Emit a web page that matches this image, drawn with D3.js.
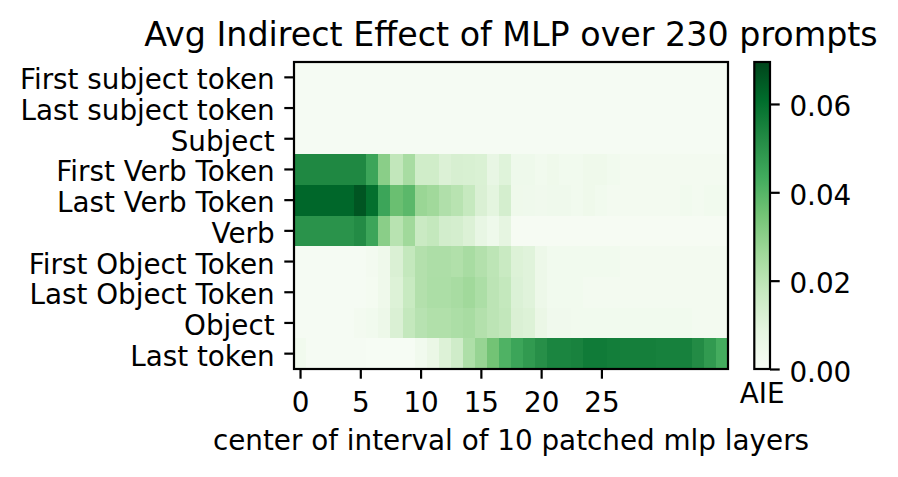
<!DOCTYPE html>
<html>
<head>
<meta charset="utf-8">
<script src="https://cdn.jsdelivr.net/npm/d3@7"></script>
<style>
body { margin: 0; background: white; }
text { font-family: "DejaVu Sans", sans-serif; fill: black; }
</style>
</head>
<body>
<script>
let width = 898
let height = 477
let plotLeft = 294, plotRight = 728, plotTop = 62, plotBottom = 369
let fontSize = 27.8

let title = 'Avg Indirect Effect of MLP over 230 prompts'
let xLabel = 'center of interval of 10 patched mlp layers'
let cbarLabel = 'AIE'

let rowLabels = ['First subject token', 'Last subject token', 'Subject',
    'First Verb Token', 'Last Verb Token', 'Verb',
    'First Object Token', 'Last Object Token', 'Object', 'Last token']

let xTicks = [0, 5, 10, 15, 20, 25]
let cbarTicks = [0, 0.02, 0.04, 0.06]
let vmax = 0.0695

// matplotlib "Greens"
let greens = ['#f7fcf5', '#e5f5e0', '#c7e9c0', '#a1d99b', '#74c476',
    '#41ab5d', '#238b45', '#006d2c', '#00441b']

// one array per row, 36 patch positions each
let firstSubject = [0.001, 0.001, 0.001, 0.001, 0.001, 0.001, 0.001, 0.001, 0.001, 0.001, 0.001, 0.001,
    0.001, 0.001, 0.001, 0.001, 0.001, 0.001, 0.001, 0.001, 0.001, 0.001, 0.001, 0.001,
    0.001, 0.001, 0.001, 0.001, 0.001, 0.001, 0.001, 0.001, 0.001, 0.001, 0.001, 0.001]
let lastSubject = [0.001, 0.001, 0.001, 0.001, 0.001, 0.001, 0.001, 0.001, 0.001, 0.001, 0.001, 0.001,
    0.001, 0.001, 0.001, 0.001, 0.001, 0.001, 0.001, 0.001, 0.001, 0.001, 0.001, 0.001,
    0.001, 0.001, 0.001, 0.001, 0.001, 0.001, 0.001, 0.001, 0.001, 0.001, 0.001, 0.001]
let subject = [0.001, 0.001, 0.001, 0.001, 0.001, 0.001, 0.001, 0.001, 0.001, 0.001, 0.001, 0.001,
    0.001, 0.001, 0.001, 0.001, 0.001, 0.001, 0.001, 0.001, 0.001, 0.001, 0.001, 0.001,
    0.001, 0.001, 0.001, 0.001, 0.001, 0.001, 0.001, 0.001, 0.001, 0.001, 0.001, 0.001]
let firstVerb = [0.053, 0.053, 0.053, 0.053, 0.053, 0.053, 0.045, 0.0305, 0.0185, 0.0245, 0.0148, 0.0148,
    0.0113, 0.0127, 0.0124, 0.0119, 0.0072, 0.0104, 0.0043, 0.0043, 0.0029, 0.004, 0.003, 0.003,
    0.004, 0.004, 0.003, 0.002, 0.002, 0.002, 0.002, 0.002, 0.002, 0.002, 0.002, 0.002]
let lastVerb = [0.062, 0.062, 0.062, 0.062, 0.062, 0.066, 0.060, 0.045, 0.0365, 0.039, 0.0274, 0.026,
    0.0226, 0.0208, 0.0176, 0.012, 0.009, 0.0136, 0.004, 0.0038, 0.0035, 0.0038, 0.0038, 0.003,
    0.004, 0.003, 0.002, 0.002, 0.002, 0.002, 0.002, 0.002, 0.003, 0.002, 0.003, 0.003]
let verb = [0.050, 0.050, 0.050, 0.050, 0.050, 0.052, 0.045, 0.0305, 0.0208, 0.026, 0.0165, 0.018,
    0.0142, 0.0136, 0.0113, 0.0072, 0.0043, 0.0082, 0.0007, 0.0007, 0.0007, 0.0007, 0.0007, 0.0007,
    0.0007, 0.0007, 0.0007, 0.0007, 0.0007, 0.0007, 0.0007, 0.0007, 0.0007, 0.0007, 0.0007, 0.0007]
let firstObject = [0.001, 0.001, 0.001, 0.001, 0.001, 0.001, 0.002, 0.004, 0.012, 0.018, 0.022, 0.0233,
    0.0233, 0.0225, 0.0245, 0.022, 0.0197, 0.0168, 0.011, 0.010, 0.005, 0.003, 0.003, 0.003,
    0.003, 0.003, 0.003, 0.002, 0.002, 0.002, 0.002, 0.002, 0.002, 0.002, 0.002, 0.002]
let lastObject = [0.001, 0.001, 0.001, 0.001, 0.001, 0.001, 0.0015, 0.004, 0.011, 0.017, 0.022, 0.0235,
    0.0235, 0.0245, 0.026, 0.0235, 0.020, 0.018, 0.0115, 0.010, 0.005, 0.003, 0.003, 0.003,
    0.002, 0.002, 0.002, 0.002, 0.002, 0.002, 0.002, 0.002, 0.002, 0.002, 0.002, 0.002]
let object = [0.001, 0.001, 0.001, 0.001, 0.001, 0.002, 0.003, 0.005, 0.012, 0.018, 0.021, 0.0225,
    0.0225, 0.0235, 0.0245, 0.022, 0.020, 0.0185, 0.012, 0.011, 0.006, 0.0035, 0.0035, 0.003,
    0.003, 0.003, 0.003, 0.003, 0.003, 0.003, 0.003, 0.003, 0.003, 0.002, 0.002, 0.002]
let lastToken = [0.003, 0.001, 0.001, 0.001, 0.001, 0.001, 0.0005, 0.0005, 0.0005, 0.0005, 0.003, 0.006,
    0.011, 0.015, 0.023, 0.028, 0.035, 0.041, 0.045, 0.048, 0.051, 0.054, 0.054, 0.0547,
    0.0568, 0.0568, 0.056, 0.0557, 0.0557, 0.0557, 0.055, 0.055, 0.055, 0.052, 0.048, 0.043]

let rows = [firstSubject, lastSubject, subject, firstVerb, lastVerb, verb,
    firstObject, lastObject, object, lastToken]
let nCols = firstSubject.length

let color = d3.scaleLinear()
    .domain(greens.map((c, i) => vmax * i / (greens.length - 1)))
    .range(greens)
    .clamp(true)

let x = d3.scaleLinear()
    .domain([-0.5, nCols - 0.5])
    .range([plotLeft, plotRight])

let y = d3.scaleBand()
    .domain(rowLabels)
    .range([plotTop, plotBottom])

let svg = d3.select('body')
    .append('svg')
    .attr('width', width)
    .attr('height', height)

svg.append('rect')
    .attr('width', width)
    .attr('height', height)
    .attr('fill', 'white')

// heatmap cells
let cells = []
rows.forEach((r, i) => r.forEach((v, j) => cells.push({row: rowLabels[i], col: j, value: v})))

svg.append('g')
    .selectAll('rect')
    .data(cells)
    .enter()
    .append('rect')
    .attr('x', d => x(d.col - 0.5))
    .attr('y', d => y(d.row))
    .attr('width', x(1) - x(0) + 0.4)
    .attr('height', y.bandwidth() + 0.4)
    .attr('fill', d => color(d.value))
    .attr('shape-rendering', 'crispEdges')

function styleAxis(g) {
    g.select('.domain').remove()
    g.selectAll('.tick line').attr('stroke', 'black').attr('stroke-width', 2.2)
    g.selectAll('.tick text').style('font-size', fontSize + 'px').attr('fill', 'black')
}

let xAxis = svg.append('g')
    .attr('transform', `translate(0,${plotBottom})`)
    .call(d3.axisBottom(x).tickValues(xTicks).tickSize(9.7).tickPadding(9))
styleAxis(xAxis)
xAxis.selectAll('.tick text').attr('dy', null).attr('y', 42.5)

let yAxis = svg.append('g')
    .attr('transform', `translate(${plotLeft},0)`)
    .call(d3.axisLeft(y).tickSize(9.7).tickPadding(9.7))
styleAxis(yAxis)
yAxis.selectAll('.tick text').attr('dy', 12)

svg.append('rect')
    .attr('x', plotLeft)
    .attr('y', plotTop)
    .attr('width', plotRight - plotLeft)
    .attr('height', plotBottom - plotTop)
    .attr('fill', 'none')
    .attr('stroke', 'black')
    .attr('stroke-width', 2.2)

svg.append('text')
    .attr('x', (plotLeft + plotRight) / 2)
    .attr('y', 46)
    .attr('text-anchor', 'middle')
    .style('font-size', '33.3px')
    .text(title)

svg.append('text')
    .attr('x', (plotLeft + plotRight) / 2)
    .attr('y', 450)
    .attr('text-anchor', 'middle')
    .style('font-size', fontSize + 'px')
    .text(xLabel)

// colorbar
let cbLeft = 754.3, cbRight = 770
let cbY = d3.scaleLinear().domain([0, vmax]).range([plotBottom, plotTop])

let grad = svg.append('defs')
    .append('linearGradient')
    .attr('id', 'cbar')
    .attr('x1', 0).attr('y1', 1).attr('x2', 0).attr('y2', 0)
grad.selectAll('stop')
    .data(greens)
    .enter()
    .append('stop')
    .attr('offset', (d, i) => i / (greens.length - 1))
    .attr('stop-color', d => d)

svg.append('rect')
    .attr('x', cbLeft)
    .attr('y', plotTop)
    .attr('width', cbRight - cbLeft)
    .attr('height', plotBottom - plotTop)
    .attr('fill', 'url(#cbar)')
    .attr('stroke', 'black')
    .attr('stroke-width', 2.2)

let cbAxis = svg.append('g')
    .attr('transform', `translate(${cbRight},0)`)
    .call(d3.axisRight(cbY).tickValues(cbarTicks).tickFormat(d3.format('.2f')).tickSize(9.7).tickPadding(9.7))
styleAxis(cbAxis)
cbAxis.selectAll('.tick text').attr('dy', 12)

svg.append('text')
    .attr('x', (cbLeft + cbRight) / 2)
    .attr('y', 403)
    .attr('text-anchor', 'middle')
    .style('font-size', fontSize + 'px')
    .text(cbarLabel)
</script>
</body>
</html>
